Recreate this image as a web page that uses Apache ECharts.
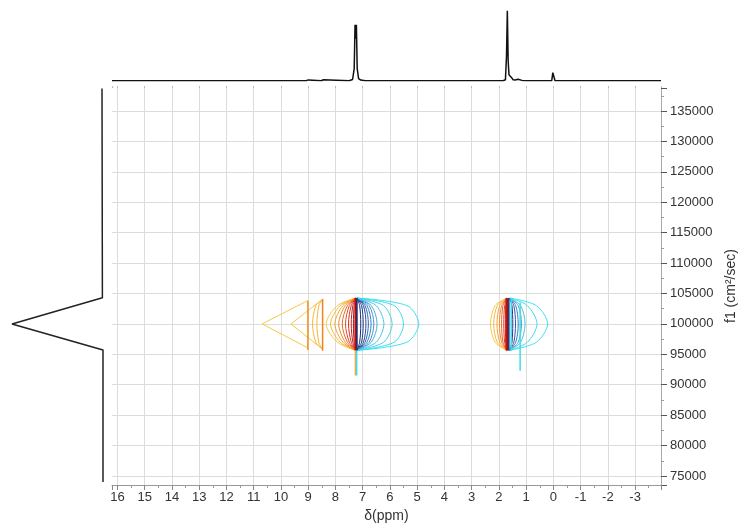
<!DOCTYPE html>
<html><head><meta charset="utf-8">
<script src="https://cdn.jsdelivr.net/npm/echarts@6/dist/echarts.min.js"></script>
<style>html,body{margin:0;padding:0;background:#fff}#c{width:739px;height:524px}</style>
</head><body><div id="c"></div>
<script>
// ---------------- DATA ----------------
// axis ranges (chemical shift in ppm, diffusion f1)
const shiftMin = -3.95, shiftMax = 16.2;
const diffMin = 73520, diffMax = 138780;
const xAxisTitle = 'δ(ppm)';
const yAxisTitle = 'f1 (cm²/sec)';

// top 1D spectrum: chemical shift (ppm) vs intensity
const topShift = [16.2, 9.08, 8.99, 8.93, 8.52, 8.44, 8.38, 7.5, 7.37, 7.31, 7.28, 7.255, 7.23, 7.2, 7.15, 7.07, 6.9,
                  1.85, 1.76, 1.72, 1.69, 1.66, 1.63, 1.58, 1.54, 1.48, 1.4, 1.3, 1.24, 1.15, 1.0,
                  0.06, 0.02, -0.02, -0.06, -3.95];
const topIntensity = [0, 0, 0.8, 0, 0, 1, 0, 0, 1.2, 12, 56, 42, 56, 12, 2, 0.6, 0,
                      0, 1, 25, 70, 20, 6, 4, 3.3, 1, 0.8, 1.5, 1.7, 0.3, 0,
                      0, 8, 8, 0, 0];

// left projection: diffusion value vs intensity
const sideD = [138700, 104300, 100000, 95700, 74000];
const sideIntensity = [1, 0.6, 91, 0, 0];

// contour geometry values (diffusion)
const contourTopD = 104250, contourBottomD = 95650;
const shoulderUpperD = 103000, shoulderLowerD = 97000, tipD = 100000;

// --- peak near 7.25 ppm ---
const aLeftAttach = 7.25;
const aLeftTips      = [8.34, 8.18, 8.02, 7.88, 7.75, 7.63, 7.52, 7.42, 7.34];
const aLeftShoulders = [7.93, 7.83, 7.73, 7.64, 7.56, 7.49, 7.42, 7.36, 7.31];
const aRightAttach = 7.21;
const aRightTips      = [7.07, 6.98, 6.88, 6.79, 6.69, 6.59, 6.47, 6.22, 5.92, 5.50, 4.94];
const aRightShoulders = [7.11, 7.04, 6.97, 6.91, 6.84, 6.76, 6.68, 6.50, 6.23, 5.84, 5.37];
const aOuterAttach = [9.03, 8.49];
const aOuterTips   = [10.69, 9.63];
const aOuterTopD   = [103800, 104000];
const aOuterBotD   = [96100, 95900];
const aMidAttach = 8.49;
const aMidTips      = [8.84, 8.68];
const aMidShoulders = [8.72, 8.61];
const aMidTopD = 103900, aMidBotD = 95950;
const aRidgePpm = [9.01, 8.47, 7.27, 7.24, 7.21, 7.265, 7.22];
const aRidgeTop = [103800, 104100, 104250, 104250, 104250, 95650, 95650];
const aRidgeBot = [95700, 95600, 95650, 95650, 95650, 91500, 91500];

// --- peak near 1.68 ppm ---
const bLeftAttach = 1.71;
const bLeftTips      = [2.31, 2.19, 2.07, 1.98, 1.90, 1.82, 1.76];
const bLeftShoulders = [2.14, 2.06, 1.97, 1.90, 1.85, 1.79, 1.75];
const bRightAttach = 1.60;
const bRightTips      = [1.49, 1.39, 1.29, 1.17, 1.04, 0.60, 0.21];
const bRightShoulders = [1.52, 1.45, 1.38, 1.29, 1.20, 0.95, 0.62];
const bRidgePpm = [1.72, 1.69, 1.635, 1.55, 1.22];
const bRidgeTop = [104250, 104250, 104250, 104250, 103500];
const bRidgeBot = [95650, 95650, 95650, 95650, 92300];

// ---------------- STYLE ----------------
const warm = ['#f7c84a', '#f5b83a', '#f3a22e', '#f08a28', '#ec6a24', '#e44a22', '#d93020', '#c41e1e', '#a81616'];
const cool = ['#1a2c78', '#203c8c', '#27509f', '#2f66b2', '#3a7ec2', '#4596d0', '#4eaedb', '#4cc6e4', '#45d4e8', '#40dcec', '#3ee2ef'];
const bWarm = ['#f7c84a', '#f5b83a', '#f3a22e', '#f08a28', '#ea5f24', '#dd3a20', '#c82020'];
const bCool = ['#1c3484', '#2a58a6', '#3a7cc0', '#4aa2d6', '#4cc4e2', '#40dcec', '#3ee2ef'];
const aRidgeColor = ['#f0901f', '#ee8420', '#e02424', '#9c1212', '#1e2f7c', '#f2a93b', '#3fdcec'];
const aRidgeWidth = [1.5, 1.5, 2, 2, 1.5, 1.5, 1.5];
const bRidgeColor = ['#e02424', '#9c1212', '#1e2f7c', '#3fdcec', '#3fdcec'];
const bRidgeWidth = [2, 2, 1.5, 1.5, 1.5];

// ---------------- BUILD ----------------
const series = [];
function addLine(data, color, width, smooth) {
  series.push({type: 'line', xAxisIndex: 0, yAxisIndex: 0, data: data, symbol: 'none', showSymbol: false,
    smooth: smooth || false, lineStyle: {color: color, width: width}, silent: true, animation: false, z: 3});
}
function arc(attach, tip, shoulder, top, bot) {
  return [[attach, top], [shoulder, shoulderUpperD], [tip, tipD], [shoulder, shoulderLowerD], [attach, bot]];
}
// peak A
aOuterAttach.forEach((a, i) => addLine([[a, aOuterTopD[i]], [aOuterTips[i], tipD], [a, aOuterBotD[i]]], warm[0], 1, false));
aMidTips.forEach((t, i) => addLine(arc(aMidAttach, t, aMidShoulders[i], aMidTopD, aMidBotD), warm[1], 1, 0.3));
aLeftTips.forEach((t, i) => addLine(arc(aLeftAttach, t, aLeftShoulders[i], contourTopD, contourBottomD), warm[i], 1, 0.3));
aRightTips.forEach((t, i) => addLine(arc(aRightAttach, t, aRightShoulders[i], contourTopD, contourBottomD), cool[i], 1, 0.3));
// peak B
bLeftTips.forEach((t, i) => addLine(arc(bLeftAttach, t, bLeftShoulders[i], contourTopD, contourBottomD), bWarm[i], 1, 0.3));
bRightTips.forEach((t, i) => addLine(arc(bRightAttach, t, bRightShoulders[i], contourTopD, contourBottomD), bCool[i], 1, 0.3));
// ridges
aRidgePpm.forEach((p, i) => addLine([[p, aRidgeTop[i]], [p, aRidgeBot[i]]], aRidgeColor[i], aRidgeWidth[i], false));
bRidgePpm.forEach((p, i) => addLine([[p, bRidgeTop[i]], [p, bRidgeBot[i]]], bRidgeColor[i], bRidgeWidth[i], false));

// projections
series.push({type: 'line', xAxisIndex: 2, yAxisIndex: 1, data: topShift.map((s, i) => [s, topIntensity[i]]),
  symbol: 'none', lineStyle: {color: '#111', width: 1.5}, silent: true, animation: false});
series.push({type: 'line', xAxisIndex: 3, yAxisIndex: 2, data: sideD.map((d, i) => [sideIntensity[i], d]),
  symbol: 'none', lineStyle: {color: '#222', width: 1.5}, silent: true, animation: false});

const font = 'Arial, "Liberation Sans", sans-serif';
const chart = echarts.init(document.getElementById('c'), null, {renderer: 'canvas'});
chart.setOption({
  animation: false,
  backgroundColor: '#fff',
  grid: [
    {left: 112, right: 78, top: 88, bottom: 39, outerBoundsMode: 'none', containLabel: false},
    {left: 112, right: 78, top: 10, height: 70.7, outerBoundsMode: 'none', containLabel: false},
    {left: 12, width: 91, top: 88, bottom: 39, outerBoundsMode: 'none', containLabel: false}
  ],
  graphic: [
    {type: 'text', x: 731, y: 286, rotation: Math.PI / 2, silent: true,
     style: {text: yAxisTitle, fontFamily: font, fontSize: 14, fill: '#333', align: 'center', verticalAlign: 'middle'}}
  ],
  xAxis: [
    {type: 'value', gridIndex: 0, min: shiftMin, max: shiftMax, inverse: true, position: 'bottom',
     minInterval: 1, maxInterval: 1,
     name: xAxisTitle, nameLocation: 'middle', nameGap: 24,
     nameTextStyle: {fontFamily: font, fontSize: 14, color: '#333'},
     axisLine: {show: true, onZero: false, lineStyle: {color: '#999'}},
     axisTick: {show: true, length: 5, lineStyle: {color: '#888'}},
     minorTick: {show: true, splitNumber: 2, length: 3, lineStyle: {color: '#999'}},
     axisLabel: {margin: 6, fontFamily: font, fontSize: 13, color: '#333',
       formatter: v => (Math.abs(v - Math.round(v)) < 1e-6 ? String(Math.round(v)) : '')},
     splitLine: {show: true, showMinLine: false, showMaxLine: false, lineStyle: {color: '#dcdcdc'}}},
    {type: 'value', gridIndex: 0, min: shiftMin, max: shiftMax, inverse: true, position: 'top',
     minInterval: 1, maxInterval: 1,
     axisLine: {show: false, onZero: false}, axisTick: {show: true, length: 2, lineStyle: {color: '#bbb'}},
     axisLabel: {show: false}, splitLine: {show: false}},
    {type: 'value', gridIndex: 1, min: shiftMin, max: shiftMax, inverse: true, show: false},
    {type: 'value', gridIndex: 2, min: 0, max: 91, inverse: true, show: false}
  ],
  yAxis: [
    {type: 'value', gridIndex: 0, min: diffMin, max: diffMax, position: 'right',
     minInterval: 5000, maxInterval: 5000,
     axisLine: {show: true, onZero: false, lineStyle: {color: '#aaa'}},
     axisTick: {show: true, length: 6, lineStyle: {color: '#555'}},
     minorTick: {show: true, splitNumber: 2, length: 3, lineStyle: {color: '#999'}},
     axisLabel: {margin: 9, fontFamily: font, fontSize: 13, color: '#333',
       formatter: v => (Math.abs(v % 5000) < 1e-6 ? String(v) : '')},
     splitLine: {show: true, showMinLine: false, showMaxLine: false, lineStyle: {color: '#dcdcdc'}}},
    {type: 'value', gridIndex: 1, min: 0, max: 70.7, show: false},
    {type: 'value', gridIndex: 2, min: diffMin, max: diffMax, show: false}
  ],
  series: series
});
</script></body></html>
